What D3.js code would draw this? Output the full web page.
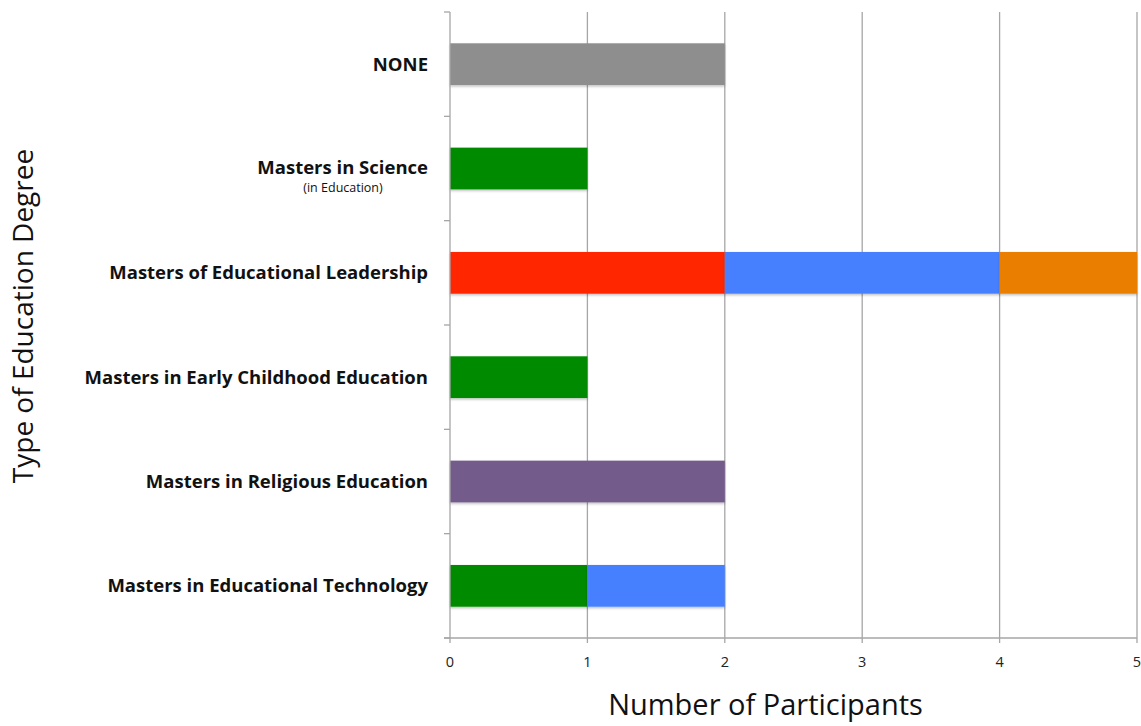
<!DOCTYPE html>
<html>
<head>
<meta charset="utf-8">
<script src="https://cdn.jsdelivr.net/npm/d3@7"></script>
<style>
  body { margin: 0; background: #fff; }
  svg { font-family: "Open Sans", sans-serif; }
</style>
</head>
<body>
<div id="graph"></div>
<script>
// degrees, top to bottom
var categories = [
  'NONE',
  'Masters in Science',
  'Masters of Educational Leadership',
  'Masters in Early Childhood Education',
  'Masters in Religious Education',
  'Masters in Educational Technology'
]
var subLabels = {'Masters in Science': '(in Education)'}

// each series holds one value per category
var seriesKeys = ['gray', 'green', 'red', 'purple', 'blue', 'orange']
var gray   = [2, 0, 0, 0, 0, 0]
var green  = [0, 1, 0, 1, 0, 1]
var red    = [0, 0, 2, 0, 0, 0]
var purple = [0, 0, 0, 0, 2, 0]
var blue   = [0, 0, 2, 0, 0, 1]
var orange = [0, 0, 1, 0, 0, 0]
var xTicks = [0, 1, 2, 3, 4, 5]

var colors = {gray: '#8e8e8e', green: '#008a00', red: '#ff2600', purple: '#735b8c', blue: '#4680ff', orange: '#e97e00'}
var seriesVals = {gray, green, red, purple, blue, orange}

var rows = categories.map((c, i) => {
  var r = {cat: c}
  seriesKeys.forEach(k => r[k] = seriesVals[k][i])
  return r
})

var W = 1141, H = 726
var m = {left: 450, right: 4, top: 12, bottom: 88}

var svg = d3.select('#graph').append('svg').attr('width', W).attr('height', H)

var x = d3.scaleLinear().domain([0, 5]).range([m.left, W - m.right])
var y = d3.scaleBand().domain(categories).range([m.top, H - m.bottom]).paddingInner(0.6).paddingOuter(0.3)
var yEdges = d3.scaleLinear().domain([0, categories.length]).range([m.top, H - m.bottom])

// gridlines
svg.append('g').selectAll('line').data(xTicks.slice(1)).join('line')
  .attr('x1', d => x(d)).attr('x2', d => x(d))
  .attr('y1', m.top).attr('y2', H - m.bottom + 5)
  .attr('stroke', '#a6a6a6').attr('stroke-width', 1.3)

// bars
var stack = d3.stack().keys(seriesKeys)(rows)
var defs = svg.append('defs')
defs.append('filter').attr('id', 'sh').attr('y', '-20%').attr('height', '150%')
  .html('<feDropShadow dx="0" dy="1.5" stdDeviation="1" flood-color="#000" flood-opacity="0.25"/>')

svg.append('g').selectAll('g').data(stack).join('g')
  .attr('fill', d => colors[d.key])
  .selectAll('rect').data(d => d.filter(s => s[1] > s[0])).join('rect')
  .attr('x', d => x(d[0]))
  .attr('width', d => x(d[1]) - x(d[0]))
  .attr('y', d => y(d.data.cat))
  .attr('height', y.bandwidth())
  .attr('filter', 'url(#sh)')

// y axis line + ticks
var ax = svg.append('g').attr('stroke', '#a6a6a6').attr('stroke-width', 1.3)
ax.append('line').attr('x1', x(0)).attr('x2', x(0)).attr('y1', m.top).attr('y2', H - m.bottom + 5)
ax.selectAll('line.t').data(d3.range(categories.length + 1)).join('line').attr('class', 't')
  .attr('x1', x(0) - 6).attr('x2', x(0)).attr('y1', d => yEdges(d)).attr('y2', d => yEdges(d))
// x axis
ax.append('line').attr('x1', x(0) - 6).attr('x2', x(5)).attr('y1', H - m.bottom).attr('y2', H - m.bottom)

// x tick labels
svg.append('g').selectAll('text').data(xTicks).join('text')
  .attr('x', d => x(d)).attr('y', H - m.bottom + 29)
  .attr('text-anchor', d => d == 5 ? 'end' : 'middle')
  .attr('dx', d => d == 5 ? 4 : 0)
  .attr('font-size', 14.5).attr('fill', '#222')
  .text(d => d)

// category labels
var lab = svg.append('g').selectAll('g').data(categories).join('g')
  .attr('transform', d => `translate(428,${y(d) + y.bandwidth() / 2})`)
lab.append('text')
  .attr('text-anchor', 'end').attr('dy', '0.35em')
  .attr('y', d => subLabels[d] ? -1 : 0)
  .attr('font-size', 18.5).attr('font-weight', 'bold').attr('fill', '#111')
  .text(d => d)
lab.filter(d => subLabels[d]).append('text')
  .attr('x', -85).attr('y', 23).attr('text-anchor', 'middle')
  .attr('font-size', 12.5).attr('fill', '#111')
  .text(d => subLabels[d])

// axis titles
svg.append('text')
  .attr('x', x(2.5) - 28).attr('y', 715)
  .attr('text-anchor', 'middle').attr('font-size', 29).attr('fill', '#111')
  .text('Number of Participants')
svg.append('text')
  .attr('transform', `translate(33,316) rotate(-90)`)
  .attr('text-anchor', 'middle').attr('font-size', 28).attr('fill', '#111')
  .text('Type of Education Degree')
</script>
</body>
</html>
